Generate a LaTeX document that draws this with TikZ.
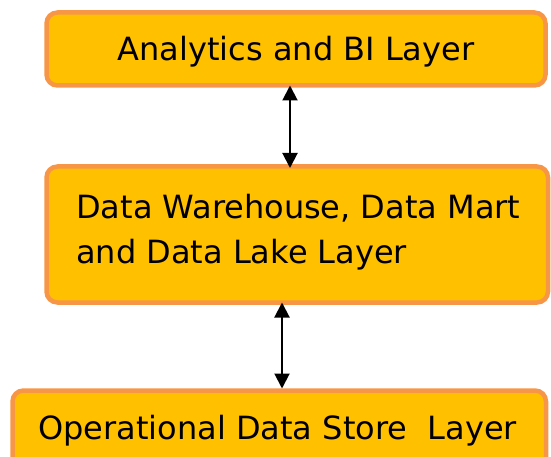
\documentclass[tikz,border=0pt]{standalone}
\usepackage{fontspec}
\usetikzlibrary{arrows.meta}
\setmainfont{DejaVu Sans}
\definecolor{boxfill}{HTML}{FFC000}
\definecolor{boxline}{HTML}{F79646}
\begin{document}
\begin{tikzpicture}[x=1pt,y=-1pt,
  layerbox/.style={draw=boxline,fill=boxfill,line width=4.5pt,rounded corners=11pt},
  lbl/.style={font=\fontsize{32}{45}\selectfont,text=black,inner sep=0pt},
  conn/.style={draw=black,line width=2pt,{Triangle[width=15pt,length=15pt]}-{Triangle[width=15pt,length=15pt]}}]
\useasboundingbox (0,0) rectangle (551,457);
\begin{scope}
\clip (0,0) rectangle (551,457);
\draw[layerbox] (46.5,12.5) rectangle (545.5,85.5);
\draw[layerbox] (46.5,166.5) rectangle (548,302.5);
\draw[layerbox] (12.5,390.5) rectangle (546,480);
\end{scope}
\coordinate (topb) at (290,85.5);
\coordinate (midt) at (290,168);
\coordinate (midb) at (282,302.5);
\coordinate (botb) at (282,388.5);
\node[lbl] (t1) at (296,52) {Analytics and BI Layer};
\node[lbl,anchor=west,align=left] (t2) at (76,232) {Data Warehouse, Data Mart\\and Data Lake Layer};
\node[lbl,anchor=west] (t3) at (38,431) {Operational Data Store\ \ Layer};
\draw[conn] (topb) -- (midt);
\draw[conn] (midb) -- (botb);
\end{tikzpicture}
\end{document}
